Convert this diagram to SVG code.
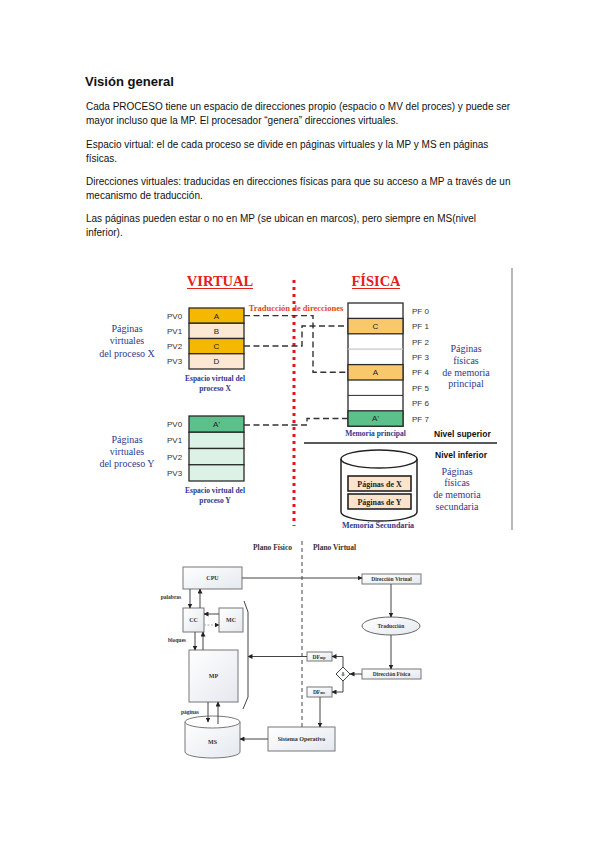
<svg xmlns="http://www.w3.org/2000/svg" width="599" height="848" viewBox="0 0 599 848">
<style>
.p{font-family:"Liberation Sans",Arial,sans-serif;font-size:10px;fill:#111}
.h{font-family:"Liberation Sans",Arial,sans-serif;font-size:13.5px;font-weight:bold;fill:#111}
.ttl{font-family:"Liberation Serif","Times New Roman",serif;font-size:14.5px;font-weight:bold;fill:#E3201B;text-anchor:middle}
.lab{font-family:"Liberation Sans",Arial,sans-serif;font-size:8px;fill:#333}
.cell{font-family:"Liberation Sans",Arial,sans-serif;font-size:8px;fill:#222;text-anchor:middle}
.blue{font-family:"Liberation Serif","Times New Roman",serif;font-size:10px;fill:#2E3A8C;text-anchor:middle}
.blueb{font-family:"Liberation Serif","Times New Roman",serif;font-size:7.5px;font-weight:bold;fill:#2E3A8C;text-anchor:middle}
.niv{font-family:"Liberation Sans",Arial,sans-serif;font-size:8.5px;font-weight:bold;fill:#111}
.pg{font-family:"Liberation Serif","Times New Roman",serif;font-size:8px;font-weight:bold;fill:#222;text-anchor:middle}
.row{stroke:#2a2a2a;stroke-width:1.3}
.dash{fill:none;stroke:#333;stroke-width:1.4;stroke-dasharray:6 3.5}
.bx{fill:url(#g1);stroke:#777;stroke-width:1}
.bt{font-family:"Liberation Serif","Times New Roman",serif;font-size:6px;font-weight:bold;fill:#333;text-anchor:middle}
.bs{font-family:"Liberation Serif","Times New Roman",serif;font-size:5.5px;font-weight:bold;fill:#333;text-anchor:middle}
.pl{font-family:"Liberation Serif","Times New Roman",serif;font-size:7.5px;font-weight:bold;fill:#333}
.ln{fill:none;stroke:#444;stroke-width:1}
.ar{fill:none;stroke:#444;stroke-width:1;marker-end:url(#ah)}
.ard{fill:none;stroke:#AAA;stroke-width:1;stroke-dasharray:2 1.5;marker-end:url(#ah)}
</style>
<defs>
<linearGradient id="g1" x1="0" y1="0" x2="1" y2="1">
<stop offset="0" stop-color="#FFFFFF"/>
<stop offset="1" stop-color="#E4E8EE"/>
</linearGradient>
<marker id="ah" viewBox="0 0 10 10" refX="9" refY="5" markerWidth="5" markerHeight="5" orient="auto" markerUnits="userSpaceOnUse">
<path d="M0,0 L10,5 L0,10 Z" fill="#222"/>
</marker>
</defs>
<rect width="599" height="848" fill="#FFFFFF"/>

<g id="texto">
<text class="h" x="85" y="86" textLength="89" lengthAdjust="spacingAndGlyphs">Visión general</text>
<text class="p" x="86" y="110">Cada PROCESO tiene un espacio de direcciones propio (espacio o MV del proces) y puede ser</text>
<text class="p" x="86" y="124">mayor incluso que la MP. El procesador “genera” direcciones virtuales.</text>
<text class="p" x="86" y="147.5">Espacio virtual: el de cada proceso se divide en páginas virtuales y la MP y MS en páginas</text>
<text class="p" x="86" y="161.5">físicas.</text>
<text class="p" x="86" y="185">Direcciones virtuales: traducidas en direcciones físicas para que su acceso a MP a través de un</text>
<text class="p" x="86" y="199">mecanismo de traducción.</text>
<text class="p" x="86" y="222">Las páginas pueden estar o no en MP (se ubican en marcos), pero siempre en MS(nivel</text>
<text class="p" x="86" y="236">inferior).</text>
</g>

<g id="titulos">
<text class="ttl" x="220" y="286">VIRTUAL</text>
<line x1="187" y1="288.5" x2="253" y2="288.5" stroke="#E3201B" stroke-width="1"/>
<text class="ttl" x="376" y="286">FÍSICA</text>
<line x1="352" y1="288.5" x2="400" y2="288.5" stroke="#E3201B" stroke-width="1"/>
<line x1="512" y1="268" x2="512" y2="530" stroke="#888" stroke-width="1.2"/>
<line x1="294" y1="280" x2="294" y2="526" stroke="#E8141B" stroke-width="3" stroke-dasharray="3 4"/>
<text x="296" y="311" font-family="Liberation Serif,Times New Roman,serif" font-size="8.5" font-weight="bold" fill="#E04A1A" text-anchor="middle">Traducción de direcciones</text>
</g>

<g id="espacio-x">
<rect class="row" x="189" y="308" width="55" height="15.25" fill="#F5B800"/>
<rect class="row" x="189" y="323.25" width="55" height="15.25" fill="#FDE9D3"/>
<rect class="row" x="189" y="338.5" width="55" height="15.25" fill="#F5B800"/>
<rect class="row" x="189" y="353.75" width="55" height="15.25" fill="#FDE9D3"/>
<text class="cell" x="216.5" y="318.5">A</text>
<text class="cell" x="216.5" y="333.8">B</text>
<text class="cell" x="216.5" y="349">C</text>
<text class="cell" x="216.5" y="364.3">D</text>
<text class="lab" x="167" y="318.5">PV0</text>
<text class="lab" x="167" y="333.8">PV1</text>
<text class="lab" x="167" y="349">PV2</text>
<text class="lab" x="167" y="364.3">PV3</text>
<text class="blue" x="127" y="332">Páginas</text>
<text class="blue" x="127" y="344">virtuales</text>
<text class="blue" x="127" y="357">del proceso X</text>
<text class="blueb" x="215" y="381">Espacio virtual del</text>
<text class="blueb" x="215" y="391">proceso X</text>
</g>

<g id="espacio-y">
<rect class="row" x="189" y="416" width="55" height="16.25" fill="#5CC08A"/>
<rect class="row" x="189" y="432.25" width="55" height="16.25" fill="#DDF2E6"/>
<rect class="row" x="189" y="448.5" width="55" height="16.25" fill="#DDF2E6"/>
<rect class="row" x="189" y="464.75" width="55" height="16.25" fill="#DDF2E6"/>
<text class="cell" x="216.5" y="427">A'</text>
<text class="lab" x="167" y="427">PV0</text>
<text class="lab" x="167" y="443.3">PV1</text>
<text class="lab" x="167" y="459.5">PV2</text>
<text class="lab" x="167" y="475.8">PV3</text>
<text class="blue" x="127" y="443">Páginas</text>
<text class="blue" x="127" y="455">virtuales</text>
<text class="blue" x="127" y="467">del proceso Y</text>
<text class="blueb" x="215" y="493">Espacio virtual del</text>
<text class="blueb" x="215" y="503">proceso Y</text>
</g>

<g id="memoria-principal">
<rect x="348" y="303" width="55" height="123.2" fill="#FFFFFF" stroke="#2a2a2a" stroke-width="1.3"/>
<rect class="row" x="348" y="318.4" width="55" height="15.4" fill="#F9C86A"/>
<rect class="row" x="348" y="364.6" width="55" height="15.4" fill="#F9C86A"/>
<rect class="row" x="348" y="410.8" width="55" height="15.4" fill="#5CC08A"/>
<line x1="348" y1="349.2" x2="403" y2="349.2" stroke="#C8C8C8" stroke-width="1.3"/>
<line x1="348" y1="395.4" x2="403" y2="395.4" stroke="#2a2a2a" stroke-width="1"/>
<text class="cell" x="375.5" y="329">C</text>
<text class="cell" x="375.5" y="375.2">A</text>
<text class="cell" x="375.5" y="421.4">A'</text>
<text class="lab" x="412" y="313.7">PF 0</text>
<text class="lab" x="412" y="329.1">PF 1</text>
<text class="lab" x="412" y="344.5">PF 2</text>
<text class="lab" x="412" y="359.9">PF 3</text>
<text class="lab" x="412" y="375.3">PF 4</text>
<text class="lab" x="412" y="390.7">PF 5</text>
<text class="lab" x="412" y="406.1">PF 6</text>
<text class="lab" x="412" y="421.5">PF 7</text>
<text class="blue" x="466" y="352">Páginas</text>
<text class="blue" x="466" y="364">físicas</text>
<text class="blue" x="466" y="375.5">de memoria</text>
<text class="blue" x="466" y="387">principal</text>
<text class="blueb" x="375.5" y="436">Memoria principal</text>
</g>

<g id="niveles">
<text class="niv" x="434" y="437">Nivel superior</text>
<line x1="304" y1="443" x2="497" y2="443" stroke="#222" stroke-width="1.5"/>
<text class="niv" x="435" y="458">Nivel inferior</text>
</g>

<g id="memoria-secundaria">
<path d="M341,459 L341,512 A38,9 0 0 0 417,512 L417,459" fill="#FFFFFF" stroke="#222" stroke-width="1.5"/>
<ellipse cx="379" cy="459" rx="38" ry="9" fill="#FFFFFF" stroke="#222" stroke-width="1.5"/>
<rect x="348" y="476" width="63" height="15" fill="#FCE4CC" stroke="#222" stroke-width="1.6"/>
<rect x="348" y="494" width="63" height="15" fill="#FCE4CC" stroke="#222" stroke-width="1.6"/>
<text class="pg" x="379.5" y="486.5">Páginas de X</text>
<text class="pg" x="379.5" y="504.5">Páginas de Y</text>
<text class="blueb" x="378" y="528" style="font-size:8px">Memoria Secundaria</text>
<text class="blue" x="457" y="475">Páginas</text>
<text class="blue" x="457" y="486">físicas</text>
<text class="blue" x="457" y="498">de memoria</text>
<text class="blue" x="457" y="510">secundaria</text>
</g>

<g id="conectores-traduccion">
<polyline class="dash" points="244,315.6 313,315.6 313,372.3 348,372.3"/>
<polyline class="dash" points="244,346 302,346 302,326 348,326"/>
<polyline class="dash" points="244,425 307,425 307,418.5 348,418.5"/>
</g>

<g id="plano-labels">
<text x="292" y="550" class="pl" text-anchor="end">Plano Físico</text>
<text x="313" y="550" class="pl">Plano Virtual</text>
<line x1="302" y1="541" x2="302" y2="727" stroke="#444" stroke-width="1" stroke-dasharray="4 3"/>
</g>

<g id="cpu"><rect class="bx" x="183" y="567" width="59" height="22"/><text class="bt" x="212.5" y="580">CPU</text></g>
<g id="cc"><rect class="bx" x="183" y="608" width="21" height="24"/><text class="bt" x="193.5" y="622">CC</text></g>
<g id="mc"><rect class="bx" x="219" y="608" width="24" height="24"/><text class="bt" x="231" y="622">MC</text></g>
<g id="mp"><rect class="bx" x="189" y="650" width="49" height="52"/><text class="bt" x="213.5" y="678">MP</text></g>
<g id="ms">
<path d="M185,722 L185,752 A27.5,6 0 0 0 240,752 L240,722" fill="url(#g1)" stroke="#777" stroke-width="1"/>
<ellipse cx="212.5" cy="722" rx="27.5" ry="6" fill="#FFFFFF" stroke="#777" stroke-width="1"/>
<text class="bt" x="212.5" y="744">MS</text>
</g>
<g id="dir-virtual"><rect class="bx" x="362" y="574" width="59" height="10"/><text class="bs" x="391.5" y="581">Dirección Virtual</text></g>
<g id="traduccion"><ellipse cx="391" cy="626" rx="29" ry="9" fill="url(#g1)" stroke="#666" stroke-width="1"/><text class="bs" x="391" y="628">Traducción</text></g>
<g id="dir-fisica"><rect class="bx" x="362" y="669" width="59" height="10"/><text class="bs" x="391.5" y="676">Dirección Física</text></g>
<g id="decision"><path d="M343,667 L350,674 L343,681 L336,674 Z" fill="#FFFFFF" stroke="#444" stroke-width="1"/><text class="bs" x="343" y="676">δ</text></g>
<g id="dfmp"><rect class="bx" x="307" y="652" width="25" height="9"/><text class="bs" x="319" y="658.5">DF<tspan style="font-size:4px">mp</tspan></text></g>
<g id="dfms"><rect class="bx" x="307" y="687" width="25" height="10"/><text class="bs" x="319" y="694">DF<tspan style="font-size:4px">ms</tspan></text></g>
<g id="so"><rect class="bx" x="268" y="727" width="67" height="24"/><text class="bt" x="301.5" y="741">Sistema Operativo</text></g>

<g id="conectores">
<line class="ar" x1="242" y1="578" x2="362" y2="578"/>
<line class="ar" x1="391" y1="584" x2="391" y2="617"/>
<line class="ar" x1="391" y1="635" x2="391" y2="669"/>
<line class="ar" x1="362" y1="674" x2="350" y2="674"/>
<polyline class="ar" points="343,667 343,656.5 332,656.5"/>
<polyline class="ar" points="343,681 343,692 332,692"/>
<line class="ar" x1="320" y1="697" x2="320" y2="727"/>
<line class="ar" x1="307" y1="656.5" x2="248" y2="656.5"/>
<polyline class="ln" points="244,601 248,612 248,697 243,709"/>
<line class="ar" x1="268" y1="739" x2="240" y2="739"/>
<line class="ar" x1="190" y1="589" x2="190" y2="608"/>
<line class="ar" x1="200" y1="608" x2="200" y2="589"/>
<line class="ar" x1="219" y1="614" x2="204" y2="614"/>
<line class="ard" x1="204" y1="625" x2="219" y2="625"/>
<line class="ar" x1="195" y1="632" x2="195" y2="650"/>
<line class="ar" x1="203" y1="650" x2="203" y2="632"/>
<line class="ar" x1="208" y1="702" x2="208" y2="722"/>
<line class="ar" x1="218" y1="724" x2="218" y2="702"/>
<text class="bs" x="171" y="599">palabras</text>
<text class="bs" x="177" y="642">bloques</text>
<text class="bs" x="190" y="714">páginas</text>
</g>
</svg>
